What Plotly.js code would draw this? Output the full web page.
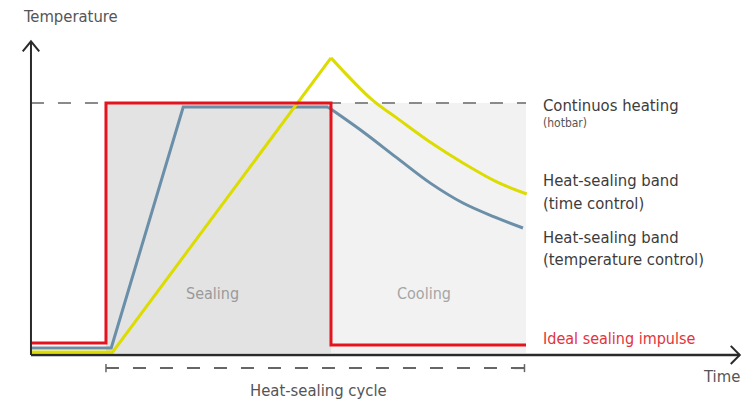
<!DOCTYPE html>
<html>
<head>
<meta charset="utf-8">
<script src="https://cdn.plot.ly/plotly-3.0.1.min.js"></script>
<style>
html,body{margin:0;padding:0;background:#fff;}
#chart{width:748px;height:406px;}
</style>
</head>
<body>
<div id="chart"></div>
<script>
// Schematic values: time (arbitrary units) and temperature (% of hotbar level)
const redTime  = [0, 1.0, 1.0, 4.0, 4.0, 6.6];
const redTemp  = [4.8, 4.8, 100, 100, 4.0, 4.0];

const blueHeatTime = [0, 1.07, 2.03, 3.96];
const blueHeatTemp = [2.8, 2.8, 98.4, 98.4];
const blueCoolTime = [3.96, 4.43, 4.88, 5.32, 5.76, 6.21, 6.56];
const blueCoolTemp = [98.4, 88.5, 78.2, 68.3, 60.3, 54.4, 50.4];

const yellowHeatTime = [0, 1.09, 4.0];
const yellowHeatTemp = [1.2, 1.2, 117.9];
const yellowCoolTime = [4.0, 4.55, 4.88, 5.32, 5.76, 6.21, 6.61];
const yellowCoolTemp = [117.9, 101.2, 94.0, 84.5, 76.2, 68.7, 63.9];

const hotbarLevel = 100;
const cycleStart = 1.0, sealEnd = 4.0, cycleEnd = 6.6;

const phaseLabels = ['Sealing', 'Cooling'];
const seriesLabels = [
  {text: 'Continuos heating', t: 6.8, v: 99.2, size: 16.5, color: '#3c3c3c'},
  {text: '(hotbar)', t: 6.8, v: 92.0, size: 12, color: '#555'},
  {text: 'Heat-sealing band', t: 6.8, v: 69.4, size: 16.5, color: '#3c3c3c'},
  {text: '(time control)', t: 6.8, v: 60.3, size: 16.5, color: '#3c3c3c'},
  {text: 'Heat-sealing band', t: 6.8, v: 46.8, size: 16.5, color: '#3c3c3c'},
  {text: '(temperature control)', t: 6.8, v: 37.7, size: 16.5, color: '#3c3c3c'},
  {text: 'Ideal sealing impulse', t: 6.8, v: 6.7, size: 16, color: '#e2323c'}
];

const FONT = '"Liberation Sans Narrow", "DejaVu Sans Condensed", "Roboto Condensed", "Noto Sans", sans-serif';
const RED = '#e3141e', BLUE = '#6b8fa8', YELLOW = '#dcdc00';

const traces = [
  {x: blueHeatTime, y: blueHeatTemp, mode: 'lines', line: {color: BLUE, width: 3}},
  {x: blueCoolTime, y: blueCoolTemp, mode: 'lines', line: {color: BLUE, width: 3, shape: 'spline', smoothing: 1}},
  {x: yellowHeatTime, y: yellowHeatTemp, mode: 'lines', line: {color: YELLOW, width: 3}},
  {x: yellowCoolTime, y: yellowCoolTemp, mode: 'lines', line: {color: YELLOW, width: 3, shape: 'spline', smoothing: 1}},
  {x: redTime, y: redTemp, mode: 'lines', line: {color: RED, width: 3}}
];

const AX = '#2a2a2a';
const shapes = [
  {type: 'rect', xref: 'x', yref: 'y', x0: cycleStart, x1: sealEnd, y0: 0.8, y1: hotbarLevel, fillcolor: '#e3e3e3', line: {width: 0}, layer: 'below'},
  {type: 'rect', xref: 'x', yref: 'y', x0: sealEnd, x1: cycleEnd, y0: 0.8, y1: hotbarLevel, fillcolor: '#f2f2f2', line: {width: 0}, layer: 'below'},
  {type: 'line', xref: 'x', yref: 'y', x0: 0, x1: cycleEnd, y0: hotbarLevel, y1: hotbarLevel, line: {color: '#8a8a8a', width: 2, dash: '13px,14px'}, layer: 'below'},
  // axes
  {type: 'line', xref: 'x', yref: 'y', x0: 0, x1: 0, y0: 0, y1: 124.5, line: {color: AX, width: 2}},
  {type: 'line', xref: 'x', yref: 'y', x0: 0, x1: 9.45, y0: 0, y1: 0, line: {color: AX, width: 2.5}},
  // arrow heads
  {type: 'path', xref: 'x', yref: 'y', path: 'M -0.11,120.5 L 0,124.5 L 0.11,120.5', line: {color: AX, width: 2}},
  {type: 'path', xref: 'x', yref: 'y', path: 'M 9.33,3.6 L 9.45,0 L 9.33,-3.6', line: {color: AX, width: 2}},
  // heat-sealing cycle bracket
  {type: 'line', xref: 'x', yref: 'y', x0: cycleStart, x1: cycleEnd, y0: -5.2, y1: -5.2, line: {color: '#666', width: 2, dash: '13px,14px'}},
  {type: 'line', xref: 'x', yref: 'y', x0: cycleStart, x1: cycleStart, y0: -3.6, y1: -6.8, line: {color: '#666', width: 1.5}},
  {type: 'line', xref: 'x', yref: 'y', x0: cycleEnd - 0.02, x1: cycleEnd - 0.02, y0: -3.6, y1: -6.8, line: {color: '#666', width: 1.5}},
  {type: 'line', xref: 'x', yref: 'y', x0: cycleEnd - 0.16, x1: cycleEnd - 0.02, y0: -5.2, y1: -5.2, line: {color: '#666', width: 2}}
];

const annotations = [
  {text: 'Temperature', x: -0.13, y: 134.2, xref: 'x', yref: 'y', xanchor: 'left', yanchor: 'middle', showarrow: false, font: {family: FONT, size: 16.5, color: '#555'}},
  {text: 'Time', x: 9.2, y: -8.5, xref: 'x', yref: 'y', xanchor: 'center', yanchor: 'middle', showarrow: false, font: {family: FONT, size: 16.5, color: '#555'}},
  {text: 'Heat-sealing cycle', x: 3.83, y: -14.0, xref: 'x', yref: 'y', xanchor: 'center', yanchor: 'middle', showarrow: false, font: {family: FONT, size: 16.5, color: '#555'}},
  {text: phaseLabels[0], x: (cycleStart + sealEnd) / 2 - 0.08, y: 24.6, xref: 'x', yref: 'y', xanchor: 'center', yanchor: 'middle', showarrow: false, font: {family: FONT, size: 16, color: '#9a9a9a'}},
  {text: phaseLabels[1], x: (sealEnd + cycleEnd) / 2 - 0.06, y: 24.6, xref: 'x', yref: 'y', xanchor: 'center', yanchor: 'middle', showarrow: false, font: {family: FONT, size: 16, color: '#a5a5a5'}}
].concat(seriesLabels.map(l => ({
  text: l.text, x: l.t, y: l.v, xref: 'x', yref: 'y', xanchor: 'left', yanchor: 'middle', showarrow: false,
  font: {family: FONT, size: l.size, color: l.color}
})));

const layout = {
  width: 748, height: 406,
  margin: {l: 0, r: 0, t: 0, b: 0, pad: 0},
  paper_bgcolor: '#fff', plot_bgcolor: '#fff',
  showlegend: false,
  xaxis: {range: [-0.413, 9.56], visible: false, fixedrange: true},
  yaxis: {range: [-20.24, 140.87], visible: false, fixedrange: true},
  shapes: shapes,
  annotations: annotations
};

Plotly.newPlot('chart', traces, layout, {staticPlot: true, displayModeBar: false});
</script>
</body>
</html>
